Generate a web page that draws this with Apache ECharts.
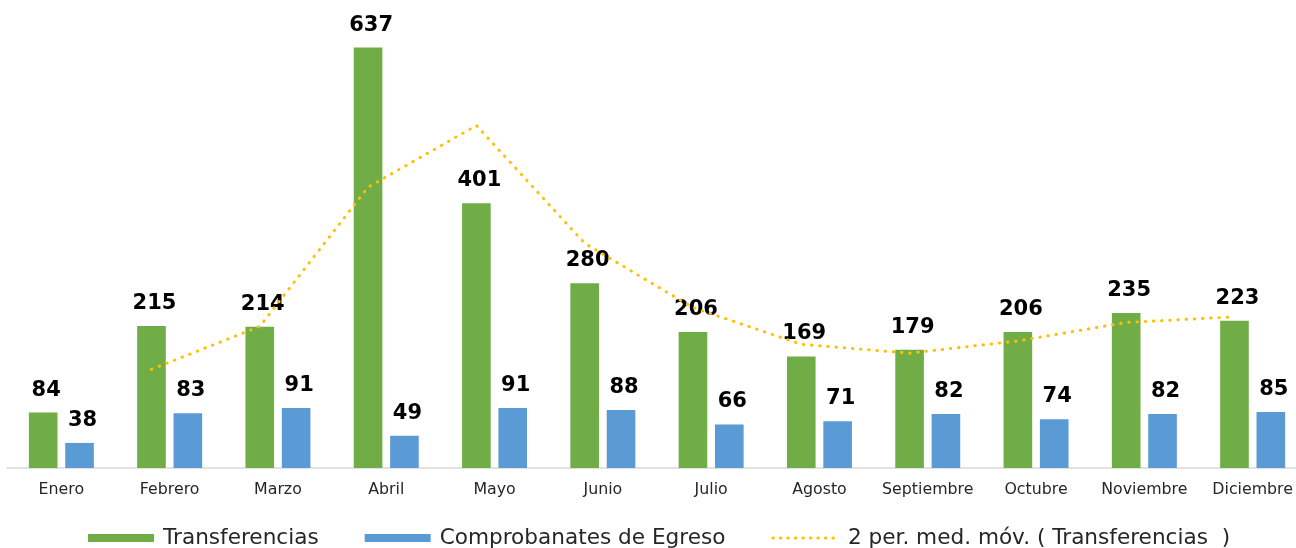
<!DOCTYPE html>
<html>
<head>
<meta charset="utf-8">
<script src="https://cdn.jsdelivr.net/npm/echarts@6/dist/echarts.min.js"></script>
<style>html,body{margin:0;padding:0;background:#fff;}#c{width:1296px;height:548px;}</style>
</head>
<body>
<div id="c"></div>
<script>
var categories = ['Enero','Febrero','Marzo','Abril','Mayo','Junio','Julio','Agosto','Septiembre','Octubre','Noviembre','Diciembre'];
var transferencias = [84,215,214,637,401,280,206,169,179,206,235,223];
var comprobantes = [38,83,91,49,91,88,66,71,82,74,82,85];
var mediaMovil = [null,149.5,214.5,425.5,519,340.5,243,187.5,174,192.5,220.5,229];
var seriesNames = ['Transferencias','Comprobanates de Egreso','2 per. med. móv. ( Transferencias  )'];

var chart = echarts.init(document.getElementById('c'), null, {renderer:'canvas'});
var FONT = "'DejaVu Sans', Verdana, sans-serif";
var gridTop = 6, gridBottom = 80, gridLeft = 7.2, gridWidth = 1299.6, shift = 18.2;
var labelCfg = {show:true, position:'top', distance:12, offset:[3,0], color:'#000', fontFamily:FONT, fontWeight:'bold', fontSize:21};
chart.setOption({
  animation:false,
  backgroundColor:'#fff',
  grid:[
    {left:gridLeft, width:gridWidth, top:gridTop, bottom:gridBottom, containLabel:false, outerBoundsMode:'none'},
    {left:gridLeft-shift, width:gridWidth, top:gridTop, bottom:gridBottom, containLabel:false, outerBoundsMode:'none'}
  ],
  xAxis:[
    {type:'category', data:categories, gridIndex:0,
     axisLine:{lineStyle:{color:'#D9D9D9', width:1.5}}, axisTick:{show:false},
     axisLabel:{color:'#262626', fontFamily:FONT, fontSize:15.8, margin:14, interval:0}},
    {type:'category', data:categories, gridIndex:1, show:false}
  ],
  yAxis:[
    {type:'value', min:0, max:700, gridIndex:0, show:false, splitLine:{show:false}},
    {type:'value', min:0, max:700, gridIndex:1, show:false, splitLine:{show:false}}
  ],
  legend:{
    left:83, top:522, itemWidth:66, itemHeight:8, itemGap:46,
    textStyle:{color:'#262626', fontFamily:FONT, fontSize:21.6, padding:[0,0,0,4]},
    data:[{name:seriesNames[0], icon:'rect'},{name:seriesNames[1], icon:'rect'},
          {name:seriesNames[2], itemStyle:{opacity:0}, lineStyle:{width:3, type:[0.5,7], cap:'round'}}]
  },
  series:[
    {name:seriesNames[0], type:'bar', data:transferencias, xAxisIndex:0, yAxisIndex:0,
     barGap:'27%', barCategoryGap:'40%', itemStyle:{color:'#70AD47'}, label:labelCfg},
    {name:seriesNames[1], type:'bar', data:comprobantes, xAxisIndex:0, yAxisIndex:0,
     itemStyle:{color:'#5B9BD5'}, label:labelCfg},
    {name:seriesNames[2], type:'line', data:mediaMovil, xAxisIndex:1, yAxisIndex:1,
     smooth:false, showSymbol:false, symbol:'none', connectNulls:false,
     itemStyle:{color:'#FFC000'},
     lineStyle:{color:'#FFC000', width:3, type:[0.5,7.7], cap:'round'}}
  ]
});
</script>
</body>
</html>
